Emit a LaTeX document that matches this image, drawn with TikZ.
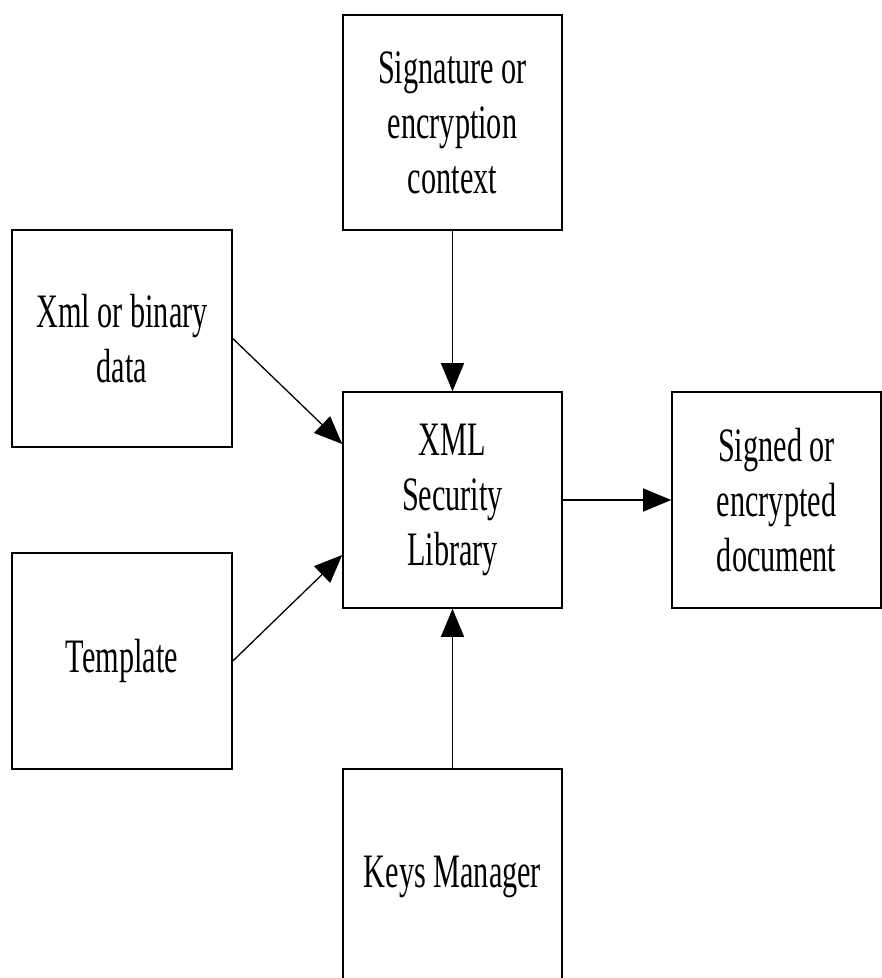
\documentclass[tikz,border=0pt]{standalone}
\usepackage{fontspec}
\setmainfont{Liberation Serif}[FakeStretch=0.63]
\usetikzlibrary{arrows.meta}
\begin{document}
\begin{tikzpicture}[x=1pt, y=-1pt,
  block/.style={draw, line width=1.6pt, rectangle, align=center, inner sep=0pt,
    font={\fontsize{48}{55}\selectfont}},
  link/.style={line width=1.3pt, -{Triangle[length=28pt, width=23pt]}}]
  \useasboundingbox (0,0) rectangle (882,978);
  \clip (0,0) rectangle (882,978);

  % boxes
  \node[block, minimum width=219pt, minimum height=215pt] (ctx) at (452.5,122.5)
    {Signature or\\encryption\\context};
  \node[block, minimum width=220pt, minimum height=217pt] (xml) at (122,338.5)
    {Xml or binary\\data};
  \node[block, minimum width=219pt, minimum height=216pt] (lib) at (452.5,500)
    {XML\\Security\\Library};
  \node[block, minimum width=209pt, minimum height=216pt] (out) at (776.5,500)
    {Signed or\\encrypted\\document};
  \node[block, minimum width=220pt, minimum height=216pt] (tpl) at (122,661)
    {Template};
  \node[block, minimum width=219pt, minimum height=216pt] (keys) at (452.5,877)
    {Keys Manager};

  % connectors
  \draw[link] (ctx.south) -- (lib.north);
  \draw[link] (xml.east) -- ([yshift=56pt]lib.west);
  \draw[link] (tpl.east) -- ([yshift=-55pt]lib.west);
  \draw[link] (lib.east) -- (out.west);
  \draw[link] (keys.north) -- (lib.south);
\end{tikzpicture}
\end{document}
